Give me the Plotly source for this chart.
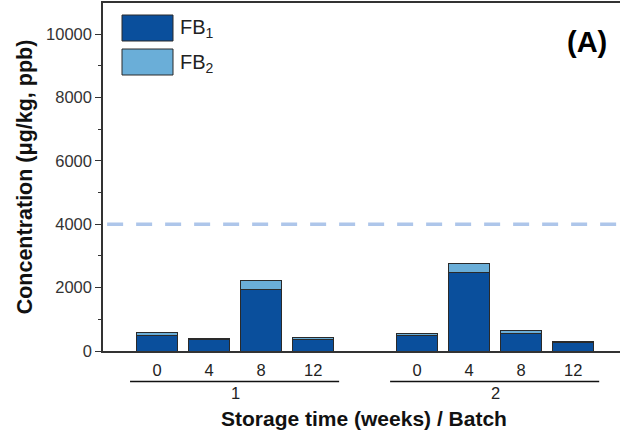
import plotly.graph_objects as go

# Storage weeks per batch and fumonisin concentrations (µg/kg)
weeks = ["0", "4", "8", "12"]
batches = ["1", "2"]
fb1 = [490, 360, 1930, 370, 480, 2480, 540, 265]
fb2 = [85, 35, 300, 60, 80, 270, 110, 50]
limit = 4000
yticks = [0, 2000, 4000, 6000, 8000, 10000]

# x positions: four weeks per batch with an empty slot between batches
xpos = [1, 2, 3, 4, 6, 7, 8, 9]
ticktext = weeks * len(batches)

dark = "#0a4f9c"
light = "#6aaed8"
edge = "#2a2a2a"

# plot-area geometry (px) used to place the paper-referenced decorations
L, T, W, H = 103, 3, 517, 348

def px(x):
    return (x - L) / W

def py(y):
    return 1 - (y - T) / H

fig = go.Figure()
fig.add_trace(go.Bar(x=xpos, y=fb1, name="FB<sub>1</sub>", marker=dict(color=dark, line=dict(color=edge, width=1)), width=0.8))
fig.add_trace(go.Bar(x=xpos, y=fb2, name="FB<sub>2</sub>", marker=dict(color=light, line=dict(color=edge, width=1)), width=0.8))

# regulatory limit
fig.add_shape(type="line", xref="paper", x0=0.008, x1=1, yref="y", y0=limit, y1=limit,
              line=dict(color="#aec6ea", width=3.5, dash="16px,13px"), layer="below")

# batch brackets under the week labels
for i, b in enumerate(batches):
    grp = xpos[i * 4:(i + 1) * 4]
    fig.add_shape(type="line", xref="x", yref="paper", x0=grp[0] - 0.52, x1=grp[-1] + 0.5,
                  y0=py(381.5), y1=py(381.5), line=dict(color="#111", width=1.6))
    fig.add_annotation(x=(grp[0] + grp[-1]) / 2, xref="x", y=py(393), yref="paper", text=b,
                       showarrow=False, font=dict(size=16.5, color="#222"), yanchor="middle")

# legend drawn as large swatches
for k, (col, lab) in enumerate([(dark, "FB<sub>1</sub>"), (light, "FB<sub>2</sub>")]):
    top = 15 + k * 34
    fig.add_shape(type="rect", xref="paper", yref="paper",
                  x0=px(122), x1=px(173), y0=py(top + 26), y1=py(top),
                  fillcolor=col, line=dict(color=edge, width=1))
    fig.add_annotation(xref="paper", yref="paper", x=px(178), y=py(top + 14),
                       text=lab, showarrow=False, xanchor="left", yanchor="middle",
                       font=dict(size=20, color="#222"))

fig.add_annotation(xref="paper", yref="paper", x=px(587), y=py(42),
                   text="<b>(A)</b>", showarrow=False, font=dict(size=29, color="#000"),
                   xanchor="center", yanchor="middle")

fig.add_annotation(xref="paper", yref="paper", x=px(364), y=py(418),
                   text="<b>Storage time (weeks) / Batch</b>", showarrow=False,
                   font=dict(size=21, color="#111"), xanchor="center", yanchor="middle")

fig.update_layout(
    width=620, height=433,
    margin=dict(l=L, r=0, t=T, b=433 - T - H),
    barmode="stack",
    showlegend=False,
    plot_bgcolor="white", paper_bgcolor="white",
    font=dict(family="Liberation Sans, Arial, sans-serif", color="#333"),
)
fig.update_xaxes(
    range=[-0.04, 9.9], tickmode="array", tickvals=xpos, ticktext=ticktext,
    showline=True, linecolor="#333", linewidth=1.5, mirror=True, ticks="",
    showgrid=False, zeroline=False, tickfont=dict(size=16.5, color="#222"),
    ticklabelstandoff=3,
)
fig.update_yaxes(
    range=[0, 10980], tickmode="array", tickvals=yticks, ticktext=[str(v) for v in yticks],
    showline=True, linecolor="#333", linewidth=1.5, ticks="outside", ticklen=6, tickwidth=1.2,
    tickcolor="#333", showgrid=False, zeroline=False, tickfont=dict(size=16.5, color="#333"),
    minor=dict(tickvals=[1000, 3000, 5000, 7000, 9000], ticks="outside", ticklen=3, tickcolor="#333", tickwidth=1.2),
    title=dict(text="<b>Concentration (μg/kg, ppb)</b>", font=dict(size=21.5, color="#111"), standoff=8),
)

fig.write_html("out.html")
